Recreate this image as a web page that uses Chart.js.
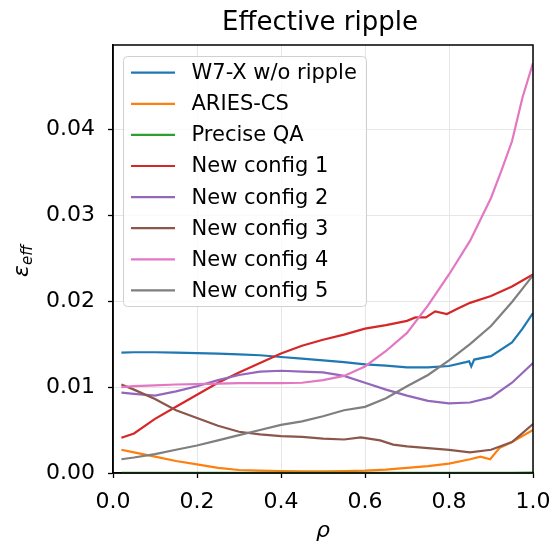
<!DOCTYPE html>
<html>
<head>
<meta charset="utf-8">
<script src="https://cdn.jsdelivr.net/npm/chart.js@4.4.0/dist/chart.umd.min.js"></script>
<style>
  html, body { margin: 0; padding: 0; background: #fff; }
  #wrap { width: 553px; height: 542px; }
</style>
</head>
<body>
<div id="wrap"><canvas id="ripple_chart" width="553" height="542"></canvas></div>
<script>
// effective ripple vs rho

var rho = [0.02,0.05,0.1,0.15,0.2,0.25,0.3,0.35,0.4,0.45,0.5,0.55,0.6,0.65,0.7,0.75,0.8,0.85,0.9,0.95,1.0];

var rhoW7X = [0.02,0.05,0.1,0.15,0.2,0.25,0.3,0.35,0.4,0.45,0.5,0.55,0.6,0.65,0.7,0.75,0.8,0.84,0.848,0.853,0.86,0.9,0.95,0.975,1.0];
var w7x    = [0.0140,0.01405,0.01405,0.0140,0.01395,0.0139,0.0138,0.0137,0.0135,0.0133,0.0131,0.0129,0.01265,0.0125,0.0123,0.0123,0.01245,0.0129,0.0130,0.0124,0.0132,0.0136,0.0152,0.0168,0.0186];

var rhoAries = [0.02,0.05,0.1,0.15,0.2,0.25,0.3,0.35,0.4,0.45,0.5,0.55,0.6,0.65,0.7,0.75,0.8,0.85,0.875,0.898,0.92,0.95,1.0];
var ariesCS  = [0.0027,0.0024,0.0019,0.0014,0.0010,0.0006,0.00035,0.00028,0.00023,0.0002,0.0002,0.00022,0.00027,0.0004,0.0006,0.0008,0.0011,0.0016,0.0019,0.0016,0.0029,0.0036,0.0050];

var preciseQA = [0.00003,0.00003,0.00003,0.00003,0.00003,0.00003,0.00003,0.00003,0.00003,0.00003,0.00003,0.00003,0.00003,0.00003,0.00003,0.00003,0.00003,0.00003,0.00003,0.00003,0.00004];

var rhoNew1 = [0.02,0.05,0.1,0.15,0.2,0.25,0.3,0.35,0.4,0.45,0.5,0.55,0.6,0.65,0.7,0.72,0.745,0.767,0.795,0.82,0.85,0.9,0.95,1.0];
var new1    = [0.0041,0.0046,0.0063,0.0077,0.0091,0.0105,0.0117,0.0128,0.0139,0.0148,0.0155,0.0161,0.0168,0.0172,0.0177,0.0181,0.0181,0.0188,0.0185,0.0191,0.0198,0.0206,0.0217,0.0231];

var new2 = [0.00935,0.0092,0.0090,0.0095,0.0101,0.0108,0.0114,0.0118,0.0119,0.0118,0.0117,0.0113,0.0105,0.0097,0.0090,0.0084,0.0081,0.0082,0.0088,0.0105,0.0128];

var rhoNew3 = [0.02,0.05,0.1,0.15,0.2,0.25,0.3,0.35,0.4,0.45,0.5,0.55,0.59,0.636,0.667,0.7,0.75,0.8,0.85,0.9,0.95,1.0];
var new3    = [0.0103,0.0097,0.0086,0.0073,0.0064,0.0055,0.0048,0.0045,0.0043,0.0042,0.0040,0.0039,0.00415,0.0038,0.0033,0.0031,0.0029,0.0027,0.0024,0.0027,0.0036,0.0057];

var rhoNew4 = [0.02,0.05,0.1,0.15,0.2,0.25,0.3,0.35,0.4,0.45,0.5,0.55,0.6,0.65,0.7,0.75,0.8,0.85,0.9,0.925,0.95,0.975,1.0];
var new4    = [0.0100,0.0101,0.0102,0.0103,0.01035,0.0104,0.01045,0.01045,0.01045,0.0105,0.0108,0.0113,0.0124,0.0142,0.0163,0.0195,0.0231,0.0270,0.0320,0.0352,0.0386,0.0437,0.0477];

var new5 = [0.0016,0.0018,0.0022,0.0027,0.0032,0.0038,0.0044,0.0050,0.0056,0.0060,0.0066,0.0073,0.0077,0.0087,0.0101,0.0114,0.0131,0.0150,0.0171,0.0199,0.0230];

var xTicks = [0, 0.2, 0.4, 0.6, 0.8, 1.0];
var yTicks = [0, 0.01, 0.02, 0.03, 0.04];

function pts(xs, ys) {
  return xs.map(function(x, i) { return {x: x, y: ys[i]}; });
}

var series = [
  ['W7-X w/o ripple', pts(rhoW7X, w7x), '#1f77b4'],
  ['ARIES-CS', pts(rhoAries, ariesCS), '#ff7f0e'],
  ['Precise QA', pts(rho, preciseQA), '#2ca02c'],
  ['New config 1', pts(rhoNew1, new1), '#d62728'],
  ['New config 2', pts(rho, new2), '#9467bd'],
  ['New config 3', pts(rhoNew3, new3), '#8c564b'],
  ['New config 4', pts(rhoNew4, new4), '#e377c2'],
  ['New config 5', pts(rho, new5), '#7f7f7f']
];

var FONT = 'DejaVu Sans';

// frame, title, axis labels and legend box drawn like matplotlib
var decor = {
  id: 'decor',
  afterDatasetsDraw: function(chart) {
    var c = chart.ctx, a = chart.chartArea;
    c.save();
    // legend
    var lx = 123.5, ly = 56.5, lw = 243, lh = 250, r = 4;
    c.beginPath();
    c.moveTo(lx + r, ly);
    c.arcTo(lx + lw, ly, lx + lw, ly + lh, r);
    c.arcTo(lx + lw, ly + lh, lx, ly + lh, r);
    c.arcTo(lx, ly + lh, lx, ly, r);
    c.arcTo(lx, ly, lx + lw, ly, r);
    c.closePath();
    c.fillStyle = 'rgba(255,255,255,0.8)';
    c.fill();
    c.strokeStyle = '#d0d0d0';
    c.lineWidth = 1;
    c.stroke();
    c.font = '21px "' + FONT + '"';
    c.textBaseline = 'middle';
    c.textAlign = 'left';
    chart.data.datasets.forEach(function(ds, i) {
      var y = 72.7 + i * 31.1;
      c.strokeStyle = ds.borderColor;
      c.lineWidth = 2.2;
      c.beginPath();
      c.moveTo(131, y);
      c.lineTo(175, y);
      c.stroke();
      c.fillStyle = '#000';
      c.fillText(ds.label, 191.5, y + 1);
    });
    // frame
    c.strokeStyle = '#000';
    c.lineWidth = 1.5;
    c.strokeRect(a.left, a.top, a.right - a.left, a.bottom - a.top);
    // title
    c.fillStyle = '#000';
    c.textAlign = 'center';
    c.textBaseline = 'alphabetic';
    c.font = '26px "' + FONT + '"';
    c.fillText('Effective ripple', (a.left + a.right) / 2 - 3, 30);
    // x label
    c.textBaseline = 'middle';
    c.font = 'italic 22px "' + FONT + '"';
    c.fillText('\u03c1', (a.left + a.right) / 2, 531);
    // y label
    c.translate(22, (a.top + a.bottom) / 2 + 2);
    c.rotate(-Math.PI / 2);
    c.textAlign = 'left';
    c.font = 'italic 22px "' + FONT + '"';
    var w = c.measureText('\u03b5').width;
    c.font = 'italic 15px "' + FONT + '"';
    var w2 = c.measureText('eff').width;
    var x0 = -(w + w2) / 2;
    c.font = 'italic 22px "' + FONT + '"';
    c.fillText('\u03b5', x0, 0);
    c.font = 'italic 15px "' + FONT + '"';
    c.fillText('eff', x0 + w, 6);
    c.restore();
  }
};

const config = {
  type: 'line',
  data: {
    datasets: series.map(function(s, i) {
      return {
        label: s[0],
        data: s[1],
        borderColor: s[2],
        backgroundColor: s[2],
        borderWidth: 2.2,
        pointRadius: 0,
        fill: false,
        order: 10 - i
      };
    })
  },
  options: {
    responsive: false,
    animation: false,
    layout: { padding: { left: 0, right: 20, top: 45, bottom: 0 } },
    plugins: {
      legend: { display: false },
      title: { display: false },
      tooltip: { enabled: false }
    },
    scales: {
      x: {
        type: 'linear',
        min: 0,
        max: 1,
        afterFit: function(s) { s.height = 69; s.paddingLeft = 0; s.paddingRight = 0; },
        afterBuildTicks: function(s) { s.ticks = xTicks.map(function(v) { return {value: v}; }); },
        ticks: {
          color: '#000',
          font: { family: FONT, size: 22 },
          padding: 11,
          maxRotation: 0,
          callback: function(v) { return v.toFixed(1); }
        },
        grid: { color: '#e6e6e6', lineWidth: 1, tickLength: 5, tickColor: '#000', tickWidth: 1.3 },
        border: { display: true, color: '#000', width: 1.5 }
      },
      y: {
        type: 'linear',
        min: 0,
        max: 0.0498,
        afterFit: function(s) { s.width = 113; s.paddingTop = 0; s.paddingBottom = 0; },
        afterBuildTicks: function(s) { s.ticks = yTicks.map(function(v) { return {value: v}; }); },
        ticks: {
          color: '#000',
          font: { family: FONT, size: 22 },
          padding: 13,
          callback: function(v) { return v.toFixed(2); }
        },
        grid: { color: '#e6e6e6', lineWidth: 1, tickLength: 5, tickColor: '#000', tickWidth: 1.3 },
        border: { display: true, color: '#000', width: 1.5 }
      }
    }
  },
  plugins: [decor]
};

window.onload = function() {
  var ctx = document.getElementById('ripple_chart').getContext('2d');
  window.rippleChart = new Chart(ctx, config);
};
</script>
</body>
</html>
